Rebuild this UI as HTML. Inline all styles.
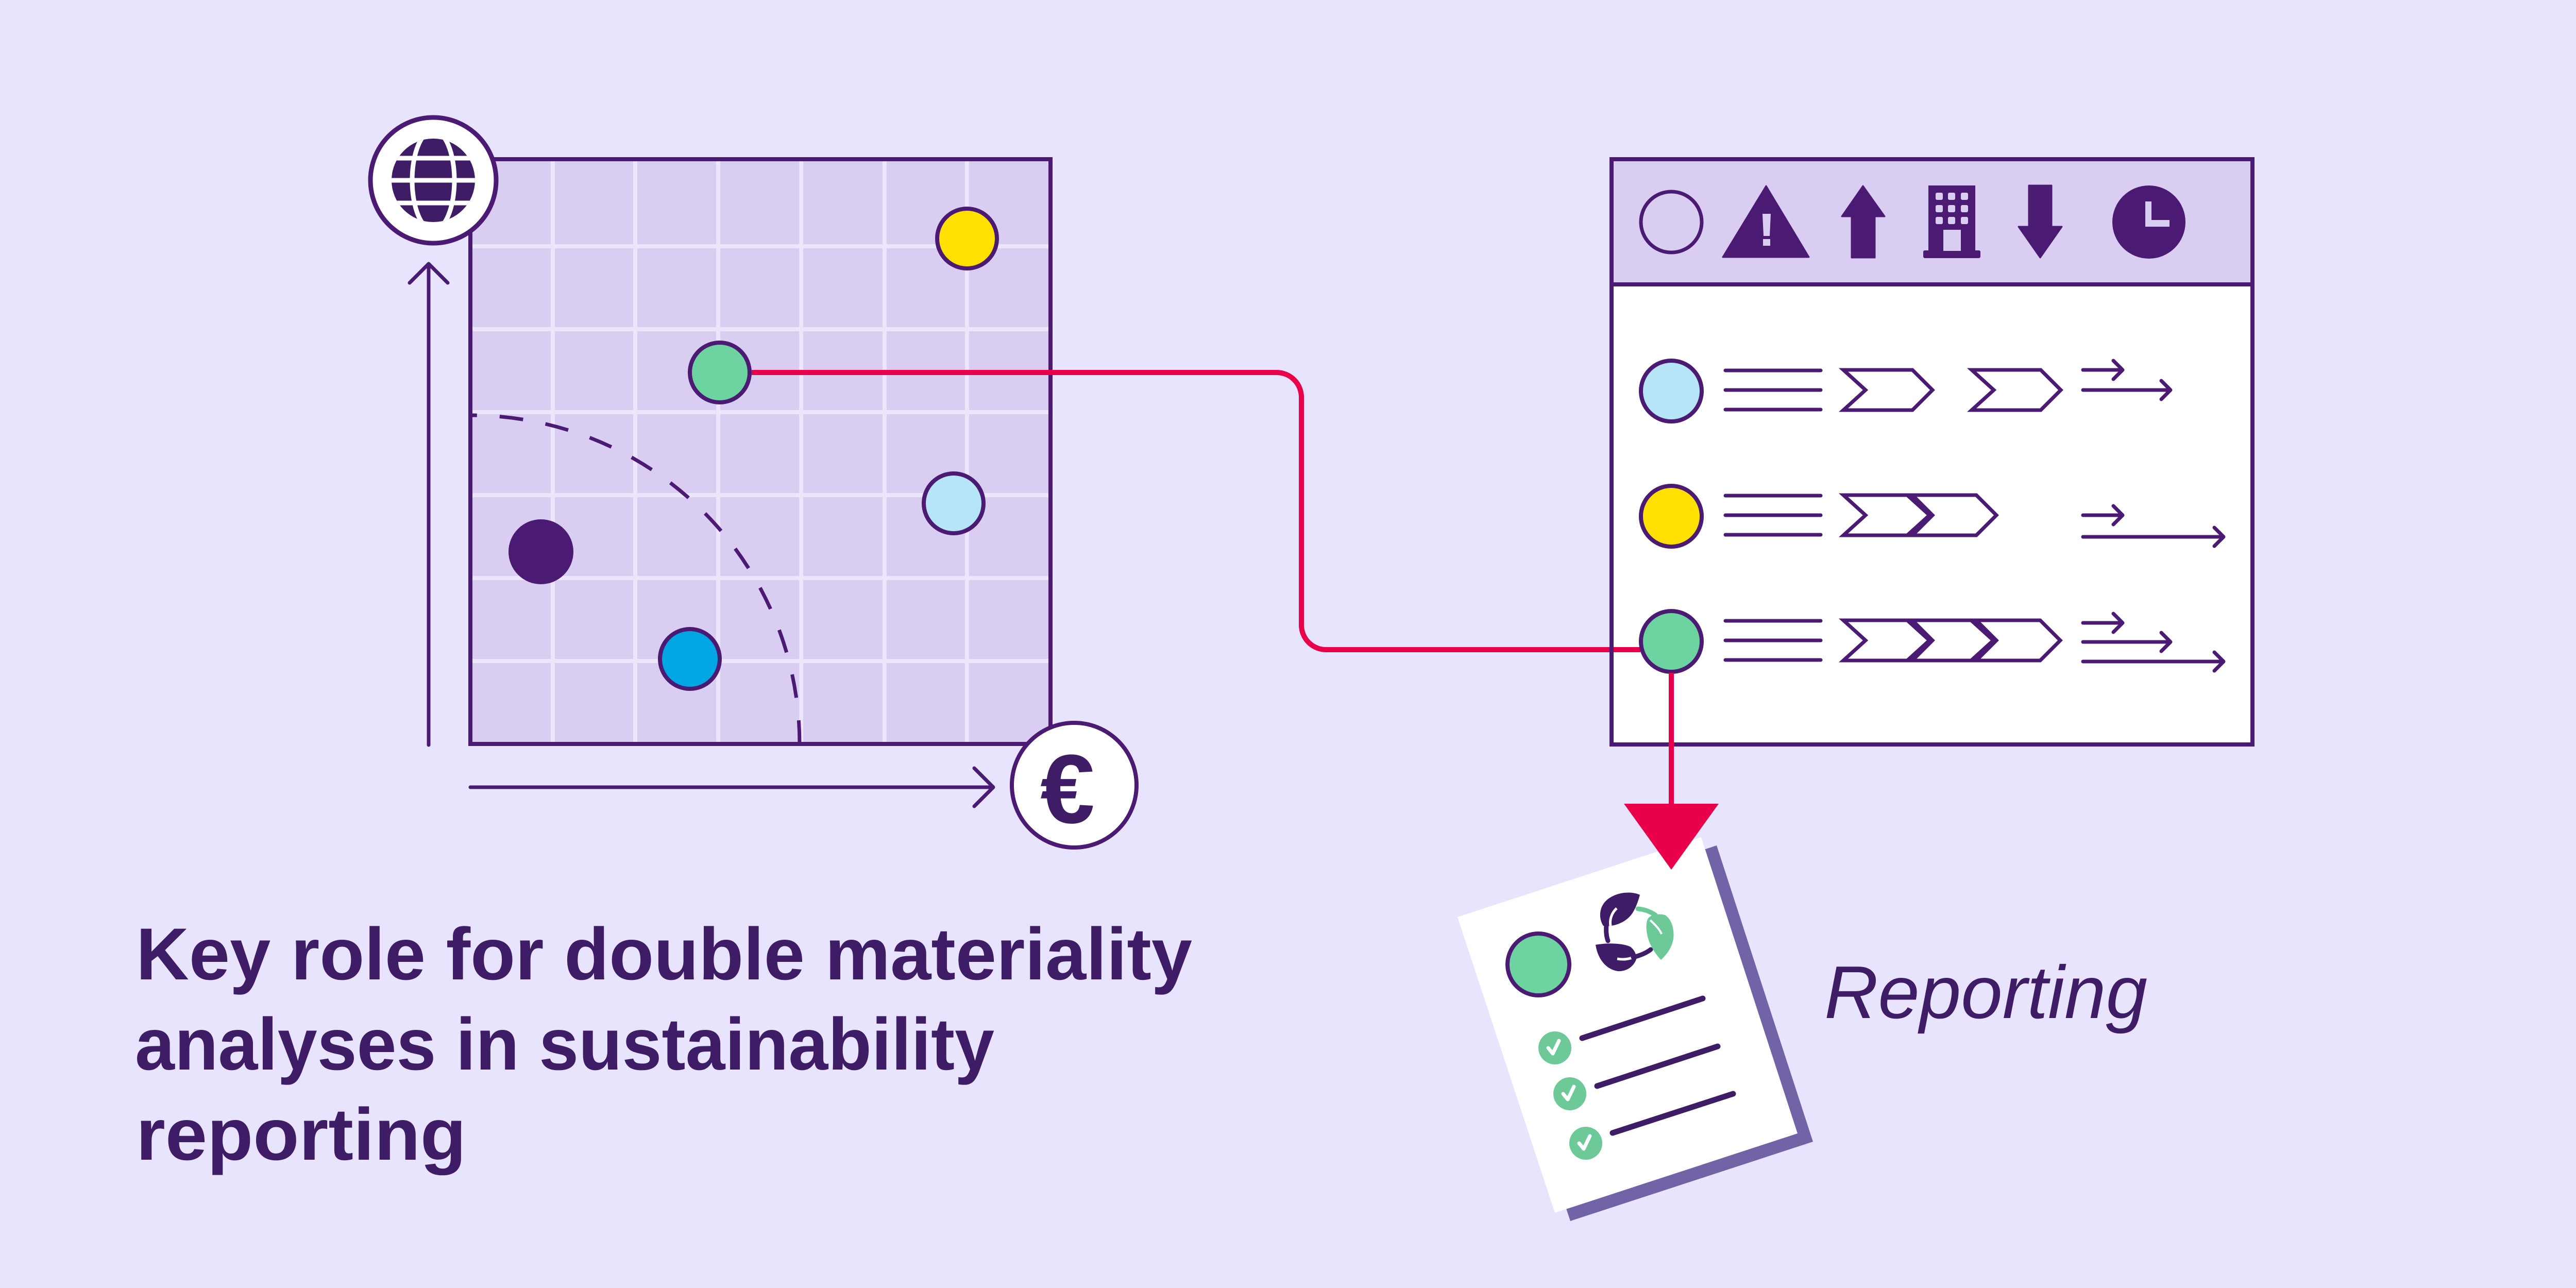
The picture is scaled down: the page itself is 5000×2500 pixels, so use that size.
<!DOCTYPE html>
<html>
<head>
<meta charset="utf-8">
<style>
  html,body{margin:0;padding:0;background:#E8E4FD;}
  svg{display:block;}
</style>
</head>
<body>
<svg width="5000" height="2500" viewBox="0 0 5000 2500" xmlns="http://www.w3.org/2000/svg">
  <defs>
    <clipPath id="gridclip"><rect x="913" y="309" width="1126" height="1135"/></clipPath>
    <clipPath id="globeclip"><circle cx="841" cy="350" r="81"/></clipPath>
  </defs>
  <rect width="5000" height="2500" fill="#E8E4FD"/>

  <!-- ===== Matrix chart ===== -->
  <rect x="913" y="309" width="1126" height="1135" fill="#D9CEF2"/>
  <g clip-path="url(#gridclip)" stroke="#EBE6FC" stroke-width="8">
    <line x1="1073" y1="300" x2="1073" y2="1450"/>
    <line x1="1233" y1="300" x2="1233" y2="1450"/>
    <line x1="1394" y1="300" x2="1394" y2="1450"/>
    <line x1="1555" y1="300" x2="1555" y2="1450"/>
    <line x1="1717" y1="300" x2="1717" y2="1450"/>
    <line x1="1877" y1="300" x2="1877" y2="1450"/>
    <line x1="905" y1="478" x2="2045" y2="478"/>
    <line x1="905" y1="639" x2="2045" y2="639"/>
    <line x1="905" y1="800" x2="2045" y2="800"/>
    <line x1="905" y1="961" x2="2045" y2="961"/>
    <line x1="905" y1="1122" x2="2045" y2="1122"/>
    <line x1="905" y1="1283" x2="2045" y2="1283"/>
  </g>
  <rect x="913" y="309" width="1126" height="1135" fill="none" stroke="#4B1B73" stroke-width="8"/>

  <!-- dashed threshold curve -->
  <path d="M1552,1444 A639,638 0 0 0 913,806" fill="none" stroke="#4B1B73" stroke-width="7" stroke-dasharray="46 44"/>

  <!-- axes -->
  <g fill="none" stroke="#4B1B73" stroke-width="7" stroke-linecap="round" stroke-linejoin="round">
    <path d="M832,1446 V512 M795,549 L832,512 L869,549"/>
    <path d="M913,1528 H1928 M1891,1491 L1928,1528 L1891,1565"/>
  </g>

  <!-- globe badge -->
  <circle cx="841" cy="350" r="122" fill="#FFFFFF" stroke="#4B1B73" stroke-width="9"/>
  <circle cx="841" cy="350" r="81" fill="#3F1C66"/>
  <g clip-path="url(#globeclip)" stroke="#FFFFFF" stroke-width="9" fill="none">
    <ellipse cx="841" cy="350" rx="41" ry="97"/>
    <line x1="750" y1="307" x2="935" y2="307"/>
    <line x1="750" y1="350" x2="935" y2="350"/>
    <line x1="750" y1="394" x2="935" y2="394"/>
  </g>

  <!-- euro badge -->
  <circle cx="2085" cy="1524" r="121" fill="#FFFFFF" stroke="#4B1B73" stroke-width="8"/>
  <text x="2072" y="1597" font-family="Liberation Sans, sans-serif" font-size="190" font-weight="bold" text-anchor="middle" fill="#3F1C66">€</text>

  <!-- red connector (behind dots) -->
  <path d="M1459,723 H2478 A48,48 0 0 1 2526,771 V1213 A48,48 0 0 0 2574,1261 H3182" fill="none" stroke="#E8004B" stroke-width="10"/>

  <!-- chart dots -->
  <g stroke="#4B1B73" stroke-width="8">
    <circle cx="1877" cy="463" r="58" fill="#FFE000"/>
    <circle cx="1397" cy="723" r="58" fill="#6CD3A1"/>
    <circle cx="1851" cy="977" r="58" fill="#B5E5F7"/>
    <circle cx="1339" cy="1279" r="58" fill="#00A5E3"/>
  </g>
  <circle cx="1050" cy="1071" r="63" fill="#4B1B73"/>

  <!-- ===== Table ===== -->
  <rect x="3128" y="309" width="1244" height="1136" fill="#FFFFFF"/>
  <rect x="3128" y="309" width="1244" height="243" fill="#D9CEF2"/>
  <line x1="3128" y1="552" x2="4372" y2="552" stroke="#4B1B73" stroke-width="8"/>
  <!-- red connector continuation inside table -->
  <line x1="3120" y1="1261" x2="3184" y2="1261" stroke="#E8004B" stroke-width="10"/>
  <rect x="3128" y="309" width="1244" height="1136" fill="none" stroke="#4B1B73" stroke-width="8"/>

  <!-- header icons -->
  <circle cx="3244" cy="431" r="59" fill="none" stroke="#4B1B73" stroke-width="7"/>
  <polygon points="3428,361 3511,499 3344,499" fill="#4B1B73" stroke="#4B1B73" stroke-width="3" stroke-linejoin="round"/>
  <polygon points="3421,415 3437,415 3435,458 3423,458" fill="#D9CEF2"/>
  <rect x="3422" y="464" width="14" height="13" fill="#D9CEF2"/>
  <path d="M3616,361 L3658,420 L3639,420 L3639,500 L3594,500 L3594,420 L3575,420 Z" fill="#4B1B73" stroke="#4B1B73" stroke-width="3" stroke-linejoin="round"/>
  <rect x="3743" y="360" width="91" height="130" fill="#4B1B73"/>
  <rect x="3733" y="486" width="111" height="15" rx="3" fill="#4B1B73"/>
  <g fill="#D9CEF2">
    <rect x="3757" y="374" width="14" height="14" rx="3"/>
    <rect x="3781" y="374" width="14" height="14" rx="3"/>
    <rect x="3806" y="374" width="14" height="14" rx="3"/>
    <rect x="3757" y="398" width="14" height="14" rx="3"/>
    <rect x="3781" y="398" width="14" height="14" rx="3"/>
    <rect x="3806" y="398" width="14" height="14" rx="3"/>
    <rect x="3757" y="421" width="14" height="14" rx="3"/>
    <rect x="3781" y="421" width="14" height="14" rx="3"/>
    <rect x="3806" y="421" width="14" height="14" rx="3"/>
    <rect x="3772" y="446" width="34" height="41"/>
  </g>
  <path d="M3938,360 L3982,360 L3982,440 L4002,440 L3960,500 L3918,440 L3938,440 Z" fill="#4B1B73" stroke="#4B1B73" stroke-width="3" stroke-linejoin="round"/>
  <circle cx="4171" cy="431" r="71" fill="#4B1B73"/>
  <rect x="4164" y="391" width="12" height="49" fill="#D9CEF2"/>
  <rect x="4164" y="427" width="47" height="13" fill="#D9CEF2"/>

  <!-- table rows -->
  <g stroke="#4B1B73" stroke-width="8">
    <circle cx="3244" cy="759" r="59" fill="#B5E5F7"/>
    <circle cx="3244" cy="1002" r="59" fill="#FFE000"/>
    <circle cx="3244" cy="1245" r="59" fill="#6CD3A1"/>
  </g>
  <g stroke="#4B1B73" stroke-width="7" stroke-linecap="round" fill="none">
    <path d="M3349,719 H3534 M3349,757 H3534 M3349,795 H3534"/>
    <path d="M3349,962 H3534 M3349,1000 H3534 M3349,1038 H3534"/>
    <path d="M3349,1205 H3534 M3349,1243 H3534 M3349,1281 H3534"/>
  </g>
  <g stroke="#4B1B73" stroke-width="7" fill="none" stroke-linejoin="miter">
    <polygon points="3578,718 3712,718 3751,757 3712,796 3578,796 3621,757"/>
    <polygon points="3827,718 3961,718 4000,757 3961,796 3827,796 3870,757"/>
    <polygon points="3578,961 3712,961 3751,1000 3712,1039 3578,1039 3621,1000"/>
    <polygon points="3702,961 3836,961 3875,1000 3836,1039 3702,1039 3745,1000"/>
    <polygon points="3578,1204 3712,1204 3751,1243 3712,1282 3578,1282 3621,1243"/>
    <polygon points="3702,1204 3836,1204 3875,1243 3836,1282 3702,1282 3745,1243"/>
    <polygon points="3826,1204 3960,1204 3999,1243 3960,1282 3826,1282 3869,1243"/>
  </g>
  <g stroke="#4B1B73" stroke-width="7" stroke-linecap="round" stroke-linejoin="round" fill="none">
    <path d="M4043,718 H4120 M4102,700 L4120,718 L4102,736"/>
    <path d="M4043,757 H4213 M4195,739 L4213,757 L4195,775"/>
    <path d="M4043,1000 H4120 M4102,982 L4120,1000 L4102,1018"/>
    <path d="M4043,1042 H4316 M4298,1024 L4316,1042 L4298,1060"/>
    <path d="M4043,1209 H4120 M4102,1191 L4120,1209 L4102,1227"/>
    <path d="M4043,1246 H4213 M4195,1228 L4213,1246 L4195,1264"/>
    <path d="M4043,1284 H4316 M4298,1266 L4316,1284 L4298,1302"/>
  </g>

  <!-- ===== Report document ===== -->
  <polygon points="2859,1796 3332,1641 3519,2216 3048,2370" fill="#7262A6"/>
  <polygon points="2829,1780 3302,1625 3489,2200 3018,2354" fill="#FFFFFF"/>

  <circle cx="2986" cy="1872" r="60" fill="#6CD3A1" stroke="#4B1B73" stroke-width="8"/>

  <!-- recycling leaves -->
  <path d="M3183,1737 C3165,1728 3130,1732 3114,1752 C3103,1766 3104,1785 3112,1797 C3135,1800 3160,1788 3170,1770 C3176,1760 3180,1748 3183,1737 Z" fill="#3F1C66"/>
  <path d="M3138,1763 C3128,1772 3124,1785 3126,1797" fill="none" stroke="#FFFFFF" stroke-width="5"/>
  <path d="M3118,1795 C3117,1808 3118,1818 3121,1826" fill="none" stroke="#3F1C66" stroke-width="9" stroke-linecap="round"/>
  <path d="M3097,1834 C3115,1830 3150,1830 3165,1838 C3174,1845 3177,1856 3176,1862 C3170,1878 3155,1886 3140,1885 C3120,1882 3102,1865 3097,1834 Z" fill="#3F1C66"/>
  <path d="M3139,1861 C3155,1864 3170,1860 3178,1853" fill="none" stroke="#FFFFFF" stroke-width="5"/>
  <path d="M3170,1858 C3182,1855 3195,1850 3204,1843" fill="none" stroke="#3F1C66" stroke-width="9" stroke-linecap="round"/>
  <path d="M3197,1787 C3200,1776 3215,1772 3232,1776 C3246,1786 3250,1805 3248,1822 C3245,1840 3235,1853 3224,1863 C3213,1852 3200,1832 3197,1813 C3195,1803 3195,1795 3197,1787 Z" fill="#6DCA98"/>
  <path d="M3179,1764 C3192,1765 3204,1770 3213,1776" fill="none" stroke="#6DCA98" stroke-width="9" stroke-linecap="round"/>
  <path d="M3203,1786 C3213,1795 3222,1805 3225,1813" fill="none" stroke="#FFFFFF" stroke-width="4"/>

  <!-- checklist -->
  <g fill="#6DCA98">
    <circle cx="3018" cy="2034" r="32"/>
    <circle cx="3047" cy="2123" r="32"/>
    <circle cx="3078" cy="2219" r="32"/>
  </g>
  <g fill="none" stroke="#FFFFFF" stroke-width="7" stroke-linecap="round" stroke-linejoin="round">
    <path d="M3005,2034 L3014,2045 L3026,2020"/>
    <path d="M3034,2123 L3043,2134 L3055,2109"/>
    <path d="M3065,2219 L3074,2230 L3086,2205"/>
  </g>
  <g stroke="#3F1C66" stroke-width="11" stroke-linecap="round">
    <line x1="3071" y1="2015" x2="3305" y2="1938"/>
    <line x1="3100" y1="2108" x2="3334" y2="2031"/>
    <line x1="3130" y1="2199" x2="3364" y2="2123"/>
  </g>

  <!-- red vertical + arrowhead -->
  <line x1="3244" y1="1306" x2="3244" y2="1565" stroke="#E8004B" stroke-width="10"/>
  <polygon points="3152,1560 3336,1560 3244,1688" fill="#E8004B"/>

  <!-- ===== Text ===== -->
  <text x="3541" y="1976" font-family="Liberation Sans, sans-serif" font-size="145" font-style="italic" fill="#3F1C66" textLength="627" lengthAdjust="spacingAndGlyphs">Reporting</text>

  <g font-family="Liberation Sans, sans-serif" font-size="143" font-weight="bold" fill="#3F1C66">
    <text x="264" y="1901" textLength="2050" lengthAdjust="spacingAndGlyphs">Key role for double materiality</text>
    <text x="262" y="2076" textLength="1668" lengthAdjust="spacingAndGlyphs">analyses in sustainability</text>
    <text x="264" y="2251" textLength="641" lengthAdjust="spacingAndGlyphs">reporting</text>
  </g>
</svg>
</body>
</html>
